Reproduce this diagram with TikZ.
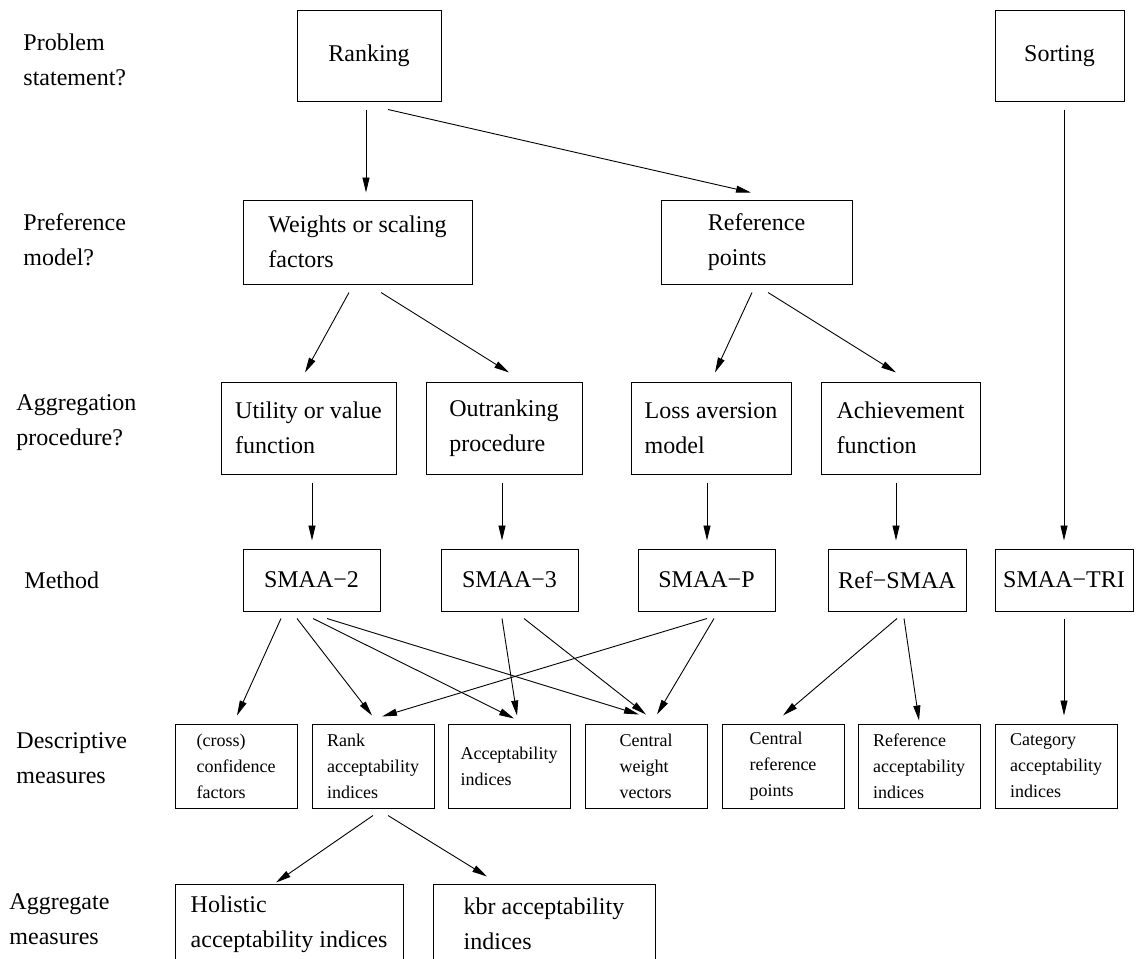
\documentclass[tikz,border=0pt]{standalone}
\usepackage{fontspec}
\setmainfont{Liberation Serif}
\usetikzlibrary{arrows.meta, calc}

\begin{document}
\begin{tikzpicture}[
  x=1pt, y=-1pt,
  box/.style={rectangle, draw, line width=1pt, inner sep=0pt, align=left,
    font=\fontsize{24}{35}\selectfont},
  meas/.style={box, minimum width=122pt, minimum height=84pt,
    font=\fontsize{18}{26}\selectfont},
  lbl/.style={anchor=west, inner sep=0pt, align=left,
    font=\fontsize{24}{35}\selectfont},
  >={Triangle[length=15pt,width=7pt]}, line width=0.9pt
]
  \useasboundingbox (0,0) rectangle (1139,958);

  % row labels
  \node[lbl] (lprob) at (23,60) {Problem\\statement?};
  \node[lbl] (lpref) at (23,240) {Preference\\model?};
  \node[lbl] (lagg) at (16,423) {Aggregation\\procedure?};
  \node[lbl] (lmeth) at (24,580) {Method};
  \node[lbl] (ldesc) at (16,758) {Descriptive\\measures};
  \node[lbl] (lagm) at (9,919) {Aggregate\\measures};

  % problem statement
  \node[box, minimum width=144pt, minimum height=90pt] (rank) at (369,56) {Ranking};
  \node[box, minimum width=129pt, minimum height=90pt] (sort) at (1059.5,56) {Sorting};

  % preference model
  \node[box, minimum width=229pt, minimum height=84pt] (wts) at (357.5,242) {Weights or scaling\\factors};
  \node[box, minimum width=191pt, minimum height=84pt] (refpt) at (756.5,242) {Reference\\points};

  % aggregation procedure
  \node[box, minimum width=175pt, minimum height=92pt] (util) at (308.5,428) {Utility or value\\function};
  \node[box, minimum width=156pt, minimum height=92pt] (outr) at (504,428) {Outranking\\procedure};
  \node[box, minimum width=160pt, minimum height=92pt] (loss) at (711,428) {Loss aversion\\model};
  \node[box, minimum width=159pt, minimum height=92pt] (ach) at (900.5,428) {Achievement\\function};

  % methods
  \node[box, minimum width=137pt, minimum height=62pt] (smaa2) at (311.5,580) {SMAA−2};
  \node[box, minimum width=137pt, minimum height=62pt] (smaa3) at (509.5,580) {SMAA−3};
  \node[box, minimum width=137pt, minimum height=62pt] (smaap) at (706.5,580) {SMAA−P};
  \node[box, minimum width=138pt, minimum height=62pt] (refsmaa) at (897,580) {Ref−SMAA};
  \node[box, minimum width=138pt, minimum height=62pt] (smaatri) at (1064,580) {SMAA−TRI};

  % descriptive measures
  \node[meas] (cross) at (236,766) {(cross)\\confidence\\factors};
  \node[meas] (rankacc) at (373,766) {Rank\\acceptability\\indices};
  \node[meas] (accept) at (509,766) {Acceptability\\indices};
  \node[meas] (cwv) at (646,766) {Central\\weight\\vectors};
  \node[meas] (cref) at (783,766) {Central\\reference\\points};
  \node[meas] (refacc) at (919,766) {Reference\\acceptability\\indices};
  \node[meas] (cat) at (1056,766) {Category\\acceptability\\indices};

  % aggregate measures
  \node[box, minimum width=228pt, minimum height=80pt] (holi) at (289,924) {Holistic\\acceptability indices};
  \node[box, minimum width=222pt, minimum height=80pt] (kbr) at (544,924) {kbr acceptability\\indices};

  % connectors
  \draw[->] ($(rank.south)+(-3,8)$) -- ($(wts.north)+(8.5,-7)$);
  \draw[->] ($(rank.south)+(19,8)$) -- ($(refpt.north)+(-5.5,-7)$);
  \draw[->] ($(sort.south)+(4.5,8)$) -- ($(smaatri.north)+(0,-8)$);

  \draw[->] ($(wts.south)+(-8.5,8)$) -- ($(util.north)+(-3.5,-9)$);
  \draw[->] ($(wts.south)+(23.5,8)$) -- ($(outr.north)+(5,-9)$);
  \draw[->] ($(refpt.south)+(-4.5,8)$) -- ($(loss.north)+(4,-9)$);
  \draw[->] ($(refpt.south)+(11.5,8)$) -- ($(ach.north)+(-4.5,-9)$);

  \draw[->] ($(util.south)+(3.5,8)$) -- ($(smaa2.north)+(0.5,-8)$);
  \draw[->] ($(outr.south)+(-2,8)$) -- ($(smaa3.north)+(-7.5,-8)$);
  \draw[->] ($(loss.south)+(-4,8)$) -- ($(smaap.north)+(0.5,-8)$);
  \draw[->] ($(ach.south)+(-4.5,8)$) -- ($(refsmaa.north)+(-1,-8)$);

  \draw[->] ($(smaa2.south)+(-30.5,7)$) -- ($(cross.north)+(1,-8)$);
  \draw[->] ($(smaa2.south)+(-14.5,7)$) -- ($(rankacc.north)+(-1,-8)$);
  \draw[->] ($(smaa2.south)+(1.5,7)$) -- ($(accept.north)+(5,-5)$);
  \draw[->] ($(smaa2.south)+(15.5,7)$) -- ($(cwv.north)+(-7,-9)$);
  \draw[->] ($(smaa3.south)+(-7.5,7)$) -- ($(accept.north)+(8,-8)$);
  \draw[->] ($(smaa3.south)+(14.5,7)$) -- ($(cwv.north)+(0,-9)$);
  \draw[->] ($(smaap.south)+(0.5,7)$) -- ($(rankacc.north)+(9,-7)$);
  \draw[->] ($(smaap.south)+(7.5,7)$) -- ($(cwv.north)+(11,-9)$);
  \draw[->] ($(refsmaa.south)+(0,7)$) -- ($(cref.north)+(0,-8)$);
  \draw[->] ($(refsmaa.south)+(7,7)$) -- ($(refacc.north)+(0,-3)$);
  \draw[->] ($(smaatri.south)+(0,7)$) -- ($(cat.north)+(8,-8)$);

  \draw[->] ($(rankacc.south)+(0,7)$) -- ($(holi.north)+(-13,-1)$);
  \draw[->] ($(rankacc.south)+(15,7)$) -- ($(kbr.north)+(-57,-7)$);
\end{tikzpicture}
\end{document}
